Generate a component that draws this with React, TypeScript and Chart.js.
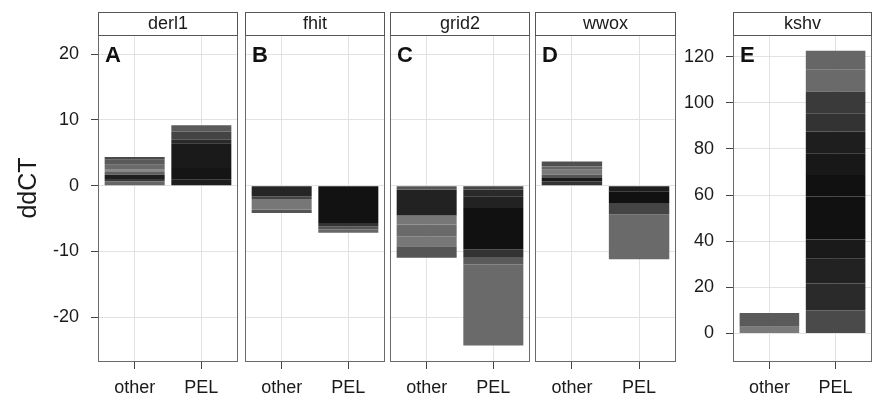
import React, { useEffect, useRef } from "react";
import { Chart, registerables } from "chart.js";

Chart.register(...registerables);

// ---------- data ----------
const categories = ["other", "PEL"];
const genes = ["derl1", "fhit", "grid2", "wwox", "kshv"];
const panelLetters = ["A", "B", "C", "D", "E"];
const yTitle = "ddCT";
const sharedTicks = [-20, -10, 0, 10, 20];
const kshvTicks = [0, 20, 40, 60, 80, 100, 120];

// stacked segment heights, from 0 outward
const derl1Other = [0.66, 0.35, 0.66, 0.4, 0.35, 0.76, 0.76, 0.4];
const derl1PEL = [0.91, 1.77, 3.78, 0.51, 1.26, 0.96];
const fhitOther = [-1.62, -0.4, -1.62, -0.5];
const fhitPEL = [-5.66, -0.5, -0.51, -0.5];
const grid2Other = [-0.6, -3.95, -1.35, -1.78, -1.52, -1.76];
const grid2PEL = [-0.6, -1.0, -1.8, -6.3, -1.26, -1.01, -12.33];
const wwoxOther = [0.66, 0.5, 0.51, 0.75, 0.51, 0.76];
const wwoxPEL = [-0.86, -1.77, -1.76, -6.81];
const kshvOther = [2.9, 6.0];
const kshvPEL = [10.0, 11.6, 10.8, 8.3, 9.3, 9.4, 9.3, 9.4, 9.4, 8.0, 9.4, 9.4, 8.3];

// ---------- styles (segment shades) ----------
const derl1OtherShade = ["#666", "#3a3a3a", "#1e1e1e", "#606060", "#888", "#6a6a6a", "#5a5a5a", "#4a4a4a"];
const derl1PELShade = ["#1e1e1e", "#151515", "#1a1a1a", "#2a2a2a", "#444", "#5a5a5a"];
const fhitOtherShade = ["#252525", "#444", "#777", "#555"];
const fhitPELShade = ["#121212", "#333", "#555", "#666"];
const grid2OtherShade = ["#555", "#222", "#777", "#6a6a6a", "#777", "#555"];
const grid2PELShade = ["#444", "#2a2a2a", "#222", "#111", "#333", "#5a5a5a", "#6a6a6a"];
const wwoxOtherShade = ["#333", "#1a1a1a", "#555", "#7a7a7a", "#666", "#505050"];
const wwoxPELShade = ["#1e1e1e", "#111", "#444", "#6a6a6a"];
const kshvOtherShade = ["#7a7a7a", "#5a5a5a"];
const kshvPELShade = ["#4a4a4a", "#2a2a2a", "#222", "#1a1a1a", "#111", "#111", "#111", "#181818", "#1e1e1e", "#333", "#3a3a3a", "#6a6a6a", "#666"];

const FONT = "'Liberation Sans', Arial, Helvetica, sans-serif";

const panels = [
  { other: derl1Other, pel: derl1PEL, otherShade: derl1OtherShade, pelShade: derl1PELShade, ticks: sharedTicks, min: -26.8, max: 22.9 },
  { other: fhitOther, pel: fhitPEL, otherShade: fhitOtherShade, pelShade: fhitPELShade, ticks: sharedTicks, min: -26.8, max: 22.9 },
  { other: grid2Other, pel: grid2PEL, otherShade: grid2OtherShade, pelShade: grid2PELShade, ticks: sharedTicks, min: -26.8, max: 22.9 },
  { other: wwoxOther, pel: wwoxPEL, otherShade: wwoxOtherShade, pelShade: wwoxPELShade, ticks: sharedTicks, min: -26.8, max: 22.9 },
  { other: kshvOther, pel: kshvPEL, otherShade: kshvOtherShade, pelShade: kshvPELShade, ticks: kshvTicks, min: -12.4, max: 129.4 },
];

// layout: canvas left, chart-area left/right, y-axis width, y labels shown
const layout = [
  { canvasLeft: 0, left: 98, right: 238, yW: 98, labels: true, title: true },
  { canvasLeft: 244, left: 245, right: 385, yW: 0, labels: false, title: false },
  { canvasLeft: 389, left: 390, right: 530, yW: 0, labels: false, title: false },
  { canvasLeft: 534, left: 535, right: 676, yW: 0, labels: false, title: false },
  { canvasLeft: 680, left: 733, right: 872, yW: 53, labels: true, title: false },
];

const H = 396;
const TOP = 35;
const BOTTOM = 362;

const decor = {
  id: "decor",
  afterDraw(chart: any, _args: any, opts: any) {
    const { ctx, chartArea: a } = chart;
    ctx.save();
    // panel border
    ctx.strokeStyle = "#6a6a6a";
    ctx.lineWidth = 1;
    ctx.strokeRect(a.left + 0.5, a.top + 0.5, a.right - a.left - 1, a.bottom - a.top - 1);
    // strip
    ctx.fillStyle = "#ffffff";
    ctx.fillRect(a.left + 0.5, 12.5, a.right - a.left - 1, a.top - 12);
    ctx.strokeStyle = "#555";
    ctx.strokeRect(a.left + 0.5, 12.5, a.right - a.left - 1, a.top - 12);
    ctx.fillStyle = "#1a1a1a";
    ctx.font = `18px ${FONT}`;
    ctx.textAlign = "center";
    ctx.textBaseline = "middle";
    ctx.fillText(opts.gene, (a.left + a.right) / 2, 24);
    // panel letter
    ctx.font = `bold 22px ${FONT}`;
    ctx.textAlign = "left";
    ctx.textBaseline = "alphabetic";
    ctx.fillStyle = "#111";
    ctx.fillText(opts.letter, a.left + 7, a.top + 27);
    // y title
    if (opts.title) {
      ctx.translate(36, 188);
      ctx.rotate(-Math.PI / 2);
      ctx.font = `25px ${FONT}`;
      ctx.textAlign = "center";
      ctx.fillStyle = "#1a1a1a";
      ctx.fillText(yTitle, 0, 0);
    }
    ctx.restore();
  },
};

function buildChart(canvas: HTMLCanvasElement, i: number) {
  const p = panels[i];
  const L = layout[i];
  const n = Math.max(p.other.length, p.pel.length);
  const datasets: any[] = [];
  for (let k = 0; k < n; k++) {
    const data: any[] = [];
    const colors: string[] = [];
    if (k < p.other.length) {
      data.push({ x: 0, y: p.other[k] });
      colors.push(p.otherShade[k]);
    }
    if (k < p.pel.length) {
      data.push({ x: 1, y: p.pel[k] });
      colors.push(p.pelShade[k]);
    }
    datasets.push({
      data,
      backgroundColor: colors,
      borderWidth: 0,
      barPercentage: 0.9,
      categoryPercentage: 1,
    });
  }
  return new Chart(canvas, {
    type: "bar",
    data: { datasets },
    plugins: [decor],
    options: {
      responsive: false,
      maintainAspectRatio: false,
      animation: false,
      devicePixelRatio: 1,
      layout: { padding: { left: L.left - L.canvasLeft - L.yW, right: 1, top: TOP, bottom: 0 } },
      plugins: {
        legend: { display: false },
        tooltip: { enabled: false },
        decor: { gene: genes[i], letter: panelLetters[i], title: L.title },
      } as any,
      scales: {
        x: {
          type: "linear",
          min: -0.55,
          max: 1.55,
          stacked: true,
          offset: false,
          afterBuildTicks: (s: any) => {
            s.ticks = categories.map((_c, idx) => ({ value: idx }));
          },
          ticks: {
            stepSize: 1,
            includeBounds: false,
            autoSkip: false,
            maxRotation: 0,
            padding: 8,
            color: "#1a1a1a",
            font: { family: FONT, size: 18 },
            callback: (v: any) => categories[v] ?? "",
          },
          grid: { offset: false, color: "#e2e2e2", tickColor: "#444", tickLength: 7, lineWidth: 1 },
          border: { display: false },
          afterFit: (s: any) => {
            s.height = H - BOTTOM;
          },
        },
        y: {
          type: "linear",
          min: p.min,
          max: p.max,
          stacked: true,
          afterBuildTicks: (s: any) => {
            s.ticks = p.ticks.map((v) => ({ value: v }));
          },
          ticks: {
            display: L.labels,
            padding: 12,
            color: "#1a1a1a",
            font: { family: FONT, size: 18 },
          },
          grid: { color: "#e2e2e2", tickColor: "#444", tickLength: 7, drawTicks: L.labels, lineWidth: 1 },
          border: { display: false },
          afterFit: (s: any) => {
            s.width = L.yW;
          },
        },
      },
    } as any,
  });
}

function Panel({ i }: { i: number }) {
  const ref = useRef<HTMLCanvasElement | null>(null);
  const L = layout[i];
  useEffect(() => {
    if (!ref.current) return;
    const c = buildChart(ref.current, i);
    return () => c.destroy();
  }, [i]);
  return (
    <canvas
      ref={ref}
      width={L.right - L.canvasLeft + 1}
      height={H}
      style={{ position: "absolute", left: L.canvasLeft, top: 0, width: L.right - L.canvasLeft + 1, height: H }}
    />
  );
}

export default function App() {
  return (
    <div style={{ position: "fixed", left: 0, top: 0, width: 873, height: 396, background: "#fff", overflow: "hidden" }}>
      {panels.map((_p, i) => (
        <Panel key={i} i={i} />
      ))}
    </div>
  );
}
